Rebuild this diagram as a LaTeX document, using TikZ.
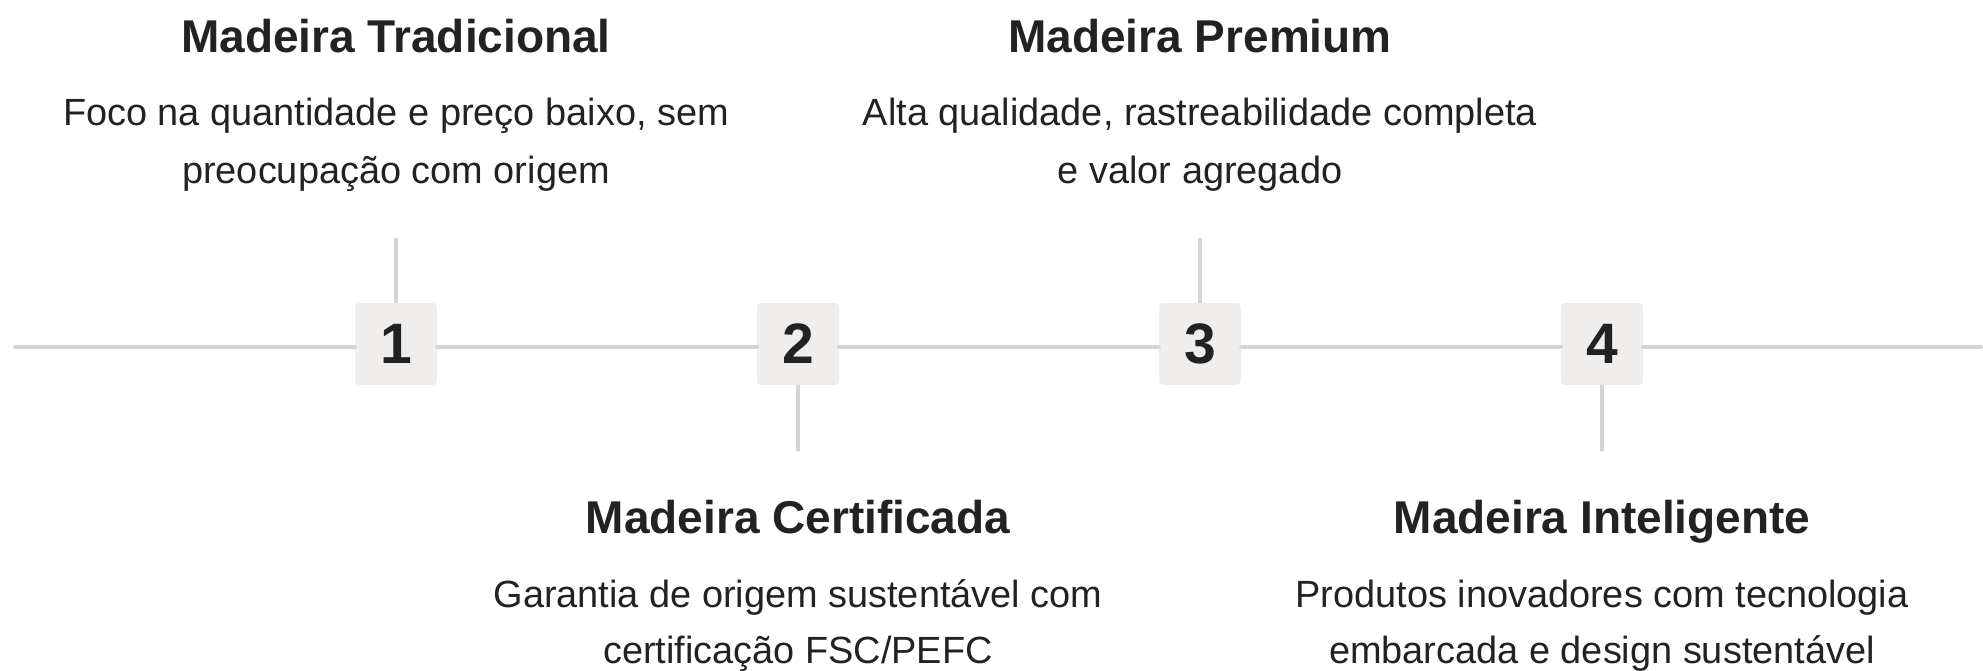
\documentclass[tikz,border=0pt]{standalone}
\usepackage{fontspec}
\setmainfont{Liberation Sans}
\definecolor{txt}{HTML}{222222}
\definecolor{lin}{HTML}{D6D3D2}
\definecolor{boxf}{HTML}{F0EEED}
\begin{document}
\begin{tikzpicture}[x=1pt,y=-1pt,
  numbox/.style={fill=boxf,rounded corners=4pt,minimum width=82pt,minimum height=82pt,inner sep=0pt,text=txt,font=\fontsize{57}{62}\selectfont\bfseries},
  ttl/.style={anchor=base,inner sep=0pt,text=txt,font=\fontsize{46}{55}\selectfont\bfseries},
  dsc/.style={anchor=base,inner sep=0pt,text=txt,font=\fontsize{37.9}{46}\selectfont},
  conn/.style={draw=lin,line width=3.5pt},
  axis/.style={draw=lin,line width=4pt,line cap=round}]
\useasboundingbox (0,0) rectangle (1983,670);
% boxes
\node[numbox] (b1) at (396,344) {1};
\node[numbox] (b2) at (798,344) {2};
\node[numbox] (b3) at (1200,344) {3};
\node[numbox] (b4) at (1602,344) {4};
% axis
\coordinate (L) at (15,347);
\coordinate (R) at (1981,347);
\draw[axis] (L) -- (L -| b1.west);
\draw[axis] (L -| b1.east) -- (L -| b2.west);
\draw[axis] (L -| b2.east) -- (L -| b3.west);
\draw[axis] (L -| b3.east) -- (L -| b4.west);
\draw[axis] (L -| b4.east) -- (R);
% ticks
\coordinate (t1) at (396,238);
\coordinate (t2) at (798,451);
\coordinate (t3) at (1200,238);
\coordinate (t4) at (1602,451);
\draw[conn] (t1) -- (b1.north);
\draw[conn] (b2.south) -- (t2);
\draw[conn] (t3) -- (b3.north);
\draw[conn] (b4.south) -- (t4);
% texts
\node[ttl] (h1) at (396,52) {Madeira Tradicional};
\node[dsc] (d1a) at (396,125) {Foco na quantidade e preço baixo, sem};
\node[dsc] (d1b) at (396,183) {preocupação com origem};
\node[ttl] (h2) at (798,533) {Madeira Certificada};
\node[dsc] (d2a) at (798,607) {Garantia de origem sustentável com};
\node[dsc] (d2b) at (798,663) {certificação FSC/PEFC};
\node[ttl] (h3) at (1200,52) {Madeira Premium};
\node[dsc] (d3a) at (1200,125) {Alta qualidade, rastreabilidade completa};
\node[dsc] (d3b) at (1200,183) {e valor agregado};
\node[ttl] (h4) at (1602,533) {Madeira Inteligente};
\node[dsc] (d4a) at (1602,607) {Produtos inovadores com tecnologia};
\node[dsc] (d4b) at (1602,663) {embarcada e design sustentável};
\end{tikzpicture}
\end{document}
